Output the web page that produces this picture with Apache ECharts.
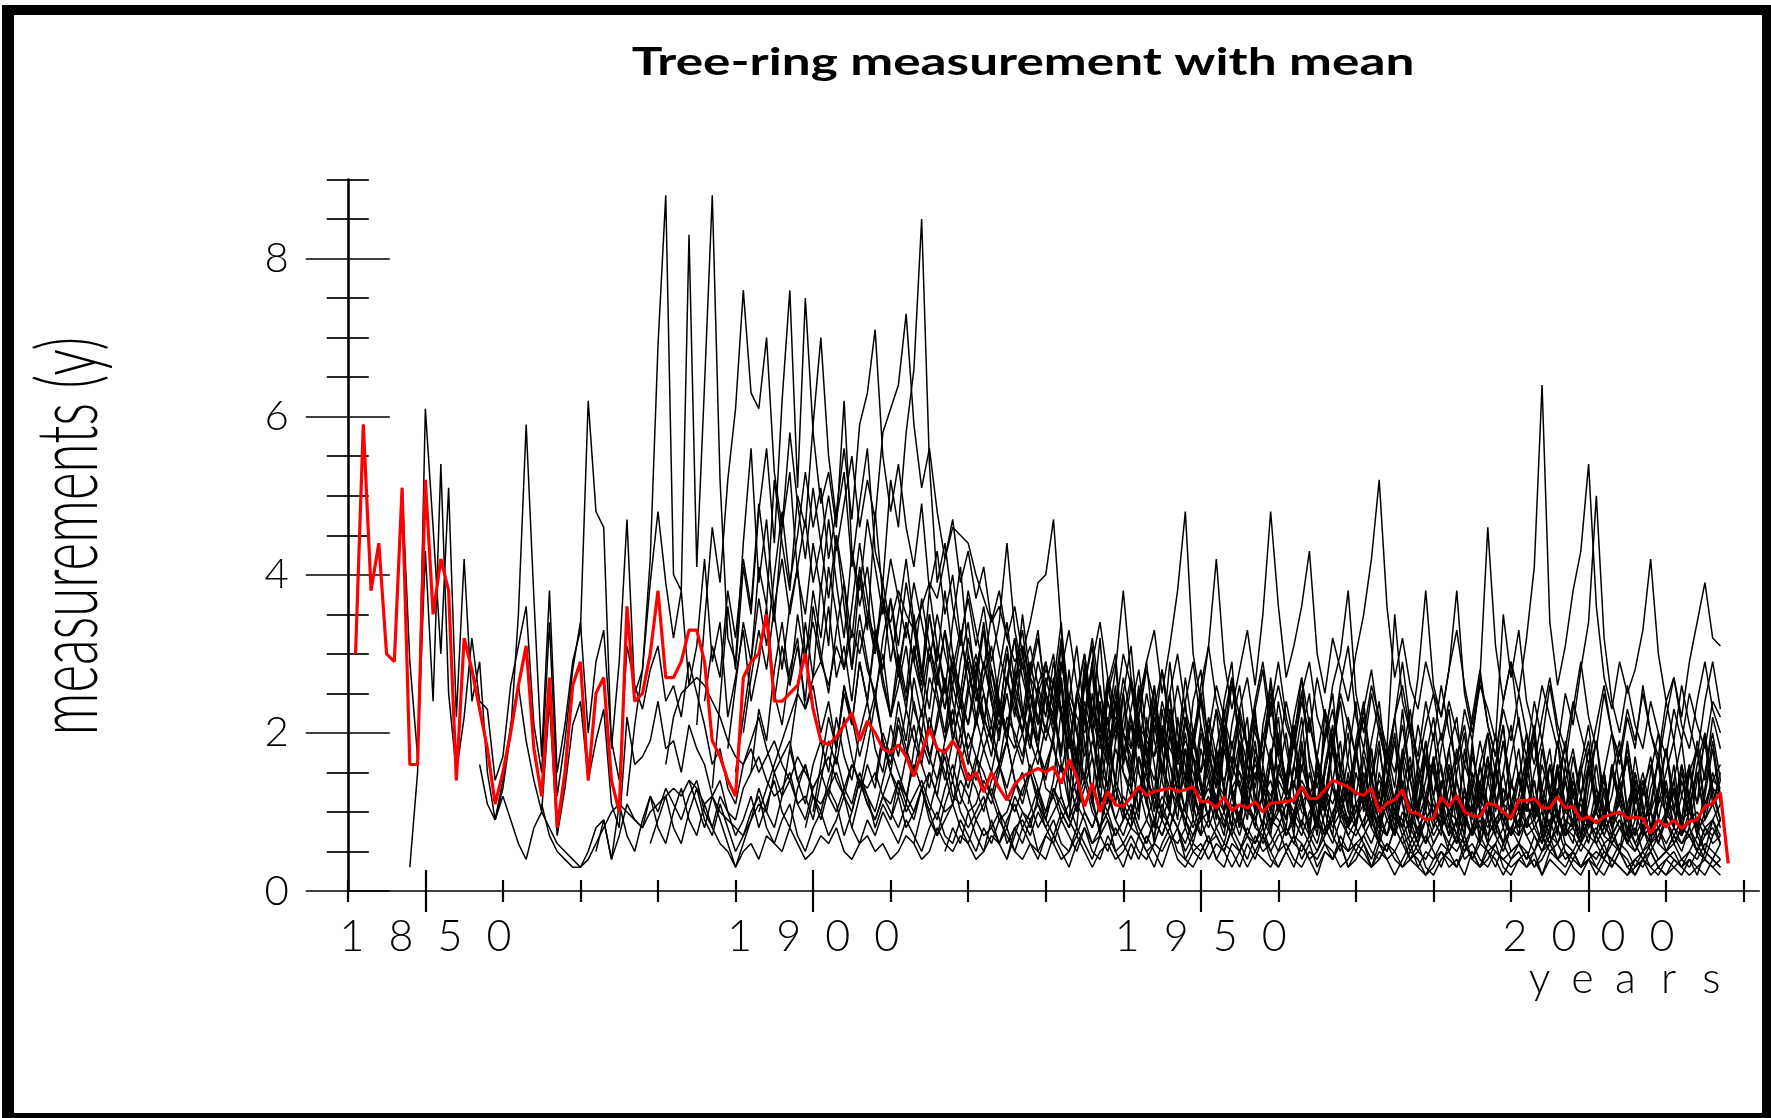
<!DOCTYPE html>
<html><head><meta charset="utf-8">
<script src="https://cdn.jsdelivr.net/npm/echarts@6/dist/echarts.min.js"></script>
<style>html,body{margin:0;padding:0;background:#fff}#c{width:1771px;height:1118px}</style>
</head><body><div id="c"></div>
<script>
const chartTitle = 'Tree-ring measurement with mean';
const xName = 'years';
const yName = 'measurements (y)';
const xLabelValues = [1850, 1900, 1950, 2000];
const xMinorValues = [1840, 1860, 1870, 1880, 1890, 1910, 1920, 1930, 1940, 1960, 1970, 1980, 1990, 2010, 2020];
const yLabelValues = [0, 2, 4, 6, 8];
const yMinorValues = [0.5, 1, 1.5, 2.5, 3, 3.5, 4.5, 5, 5.5, 6.5, 7, 7.5, 8.5, 9];

const meanStart = 1841;
const meanValues = [
3.0,5.9,3.8,4.4,3.0,2.9,5.1,1.6,1.6,5.2,
3.5,4.2,3.8,1.4,3.2,2.8,2.3,1.8,1.1,1.5,
2.0,2.6,3.1,1.8,1.2,2.7,0.8,1.5,2.6,2.9,
1.4,2.5,2.7,1.4,1.0,3.6,2.4,2.5,3.0,3.8,
2.7,2.7,2.9,3.3,3.3,2.9,1.9,1.7,1.4,1.2,
2.7,2.9,3.0,3.5,2.4,2.4,2.5,2.6,3.0,2.3,
1.9,1.85,1.95,2.1,2.25,1.9,2.15,2.0,1.8,1.75,
1.85,1.7,1.45,1.75,2.05,1.8,1.75,1.9,1.75,1.4,
1.5,1.25,1.5,1.3,1.15,1.35,1.45,1.5,1.55,1.5,
1.57,1.36,1.66,1.45,1.07,1.36,1.0,1.26,1.09,1.07,
1.19,1.32,1.21,1.26,1.28,1.3,1.26,1.28,1.32,1.13,
1.13,1.05,1.19,1.02,1.09,1.05,1.13,1.0,1.11,1.12,
1.13,1.15,1.32,1.17,1.17,1.28,1.4,1.36,1.32,1.24,
1.21,1.3,1.0,1.11,1.15,1.28,1.0,0.98,0.9,0.92,
1.19,1.07,1.21,1.0,0.95,0.94,1.11,1.09,1.0,0.92,
1.15,1.14,1.17,1.05,1.05,1.19,1.05,1.07,0.9,0.94,
0.86,0.94,0.97,1.0,0.92,0.93,0.92,0.73,0.9,0.81,
0.9,0.79,0.88,0.9,1.07,1.11,1.24,0.35];

const startYears = [1841,1848,1857,1859,1865,1872,1876,1885,1887,1889,1890,1891,1881,1879,1884,1893,1895,1897,1899,1902,1905,1910,1913,1917,1920,1925,1886,1892,1900,1908];

const treeA = [
3.0,5.9,3.8,4.4,3.0,2.9,5.1,2.9,1.7,4.3,
2.4,5.4,2.5,1.5,2.2,3.2,2.4,2.3,1.4,1.7,
2.6,3.1,3.6,2.1,1.5,3.4,1.2,1.9,2.8,3.4,
2.0,2.9,3.3,1.9,1.4,3.1,2.6,2.3,2.8,3.1,
2.4,2.6,2.2,2.9,2.5,2.1,1.6,1.8,1.3,1.1,
1.6,1.9,2.2,1.8,1.5,1.7,1.9,1.4,1.6,1.2,
1.1,1.3,1.5,1.2,1.0,1.4,1.1,0.9,1.2,1.0,
0.8,1.1,0.9,1.3,1.0,0.7,0.9,1.1,0.8,0.6,
0.9,0.7,0.8,1.0,0.6,0.8,0.9,0.7,1.0,0.8,
0.6,0.9,0.7,0.5,0.8,0.6,0.7,0.9,0.5,0.6,
0.8,0.7,0.5,0.6,0.9,0.7,0.6,0.8,0.5,0.4,
0.6,0.7,0.5,0.8,0.6,0.4,0.7,0.5,0.6,0.8,
0.5,0.7,0.6,0.4,0.5,0.7,0.9,0.6,0.5,0.6,
0.7,0.5,0.4,0.6,0.5,0.7,0.4,0.3,0.5,0.4,
0.6,0.5,0.7,0.4,0.5,0.3,0.6,0.5,0.4,0.5,
0.6,0.4,0.5,0.7,0.5,0.6,0.4,0.5,0.3,0.4,
0.5,0.4,0.6,0.5,0.3,0.4,0.5,0.3,0.4,0.5,
0.4,0.3,0.5,0.4,0.6,0.5,0.4];

const treeB = [
0.3,1.5,6.1,
4.6,3.0,5.1,2.2,4.2,2.4,2.9,1.5,0.9,1.4,
2.1,2.6,1.9,1.4,1.0,2.4,0.7,1.3,2.1,2.4,
1.4,1.9,2.3,1.1,0.8,2.2,1.6,1.7,1.9,2.4,
1.8,1.9,1.5,2.1,1.8,1.6,1.2,1.4,1.0,0.9,
1.3,1.5,1.7,1.4,1.2,1.3,1.5,1.1,1.2,0.9,
1.4,1.9,1.6,2.2,1.7,1.3,1.8,2.4,1.9,1.5,
1.2,1.7,2.1,1.6,1.3,1.8,1.5,1.1,1.6,2.0,
1.7,1.3,1.1,1.5,1.9,1.4,1.2,1.6,1.3,1.0,
1.4,2.3,1.1,0.8,1.9,1.2,0.7,1.6,2.4,1.0,
0.8,1.7,1.2,0.6,2.1,1.4,0.9,1.8,1.1,0.7,
1.9,1.0,0.7,1.5,2.2,1.1,0.8,1.6,1.0,2.0,
1.2,0.7,1.8,1.1,0.8,2.3,1.3,0.9,1.5,0.8,
1.7,1.0,0.6,1.4,2.0,1.1,0.7,1.3,1.9,0.9,
0.7,1.6,1.2,0.8,1.9,1.0,0.6,1.5,2.1,1.1,
0.8,1.4,0.9,1.8,1.2,0.7,1.6,1.0,0.6,1.3,
1.9,1.0,0.7,1.4,0.9,1.7,1.1,0.6,1.2,1.8,
1.0,0.7,1.5,1.1,2.0,1.3,0.9];

const treeC = [
1.6,1.1,0.9,1.2,
0.9,0.6,0.4,0.8,1.0,0.8,0.6,0.5,0.4,0.3,
0.5,0.8,0.9,0.4,0.7,1.1,0.9,0.8,1.2,1.0,
1.3,1.1,0.9,1.2,1.4,1.0,0.8,0.6,0.5,0.3,
0.5,0.6,0.4,0.7,0.6,0.5,0.8,0.6,0.4,0.5,
0.7,0.6,0.8,0.5,0.4,0.6,0.7,0.5,0.6,0.4,
0.5,0.7,0.6,0.4,0.5,0.8,0.6,0.5,0.7,0.6,
0.4,0.5,0.7,0.6,0.8,0.5,0.4,0.6,0.5,0.7,
0.6,0.4,0.5,0.7,0.5,0.3,0.5,0.6,0.4,0.5,
0.7,0.5,0.4,0.6,0.5,0.7,0.4,0.3,0.5,0.6,
0.4,0.6,0.5,0.3,0.5,0.7,0.5,0.4,0.3,0.5,
0.6,0.4,0.3,0.5,0.4,0.6,0.5,0.3,0.4,0.6,
0.5,0.3,0.4,0.6,0.4,0.3,0.5,0.4,0.2,0.3,
0.5,0.4,0.3,0.5,0.6,0.4,0.3,0.5,0.4,0.3,
0.4,0.5,0.3,0.4,0.6,0.4,0.5,0.3,0.2,0.4,
0.3,0.5,0.4,0.3,0.2,0.4,0.3,0.5,0.3,0.2,
0.3,0.4,0.3,0.5,0.4,0.3,0.4];

const treeD = [
0.9,1.3,
2.0,3.5,5.9,3.7,1.7,3.8,1.5,2.1,2.9,3.3,
6.2,4.8,4.6,1.8,2.9,4.7,2.5,2.8,3.9,4.8,
3.9,3.2,3.8,2.6,3.1,4.2,2.9,3.4,2.2,2.7,
3.3,2.4,2.9,3.6,2.5,2.1,2.8,3.2,2.3,2.6,
2.0,2.4,1.8,2.6,2.2,1.7,2.1,2.5,1.9,1.6,
2.2,1.8,1.5,2.0,1.7,1.4,1.9,2.3,1.6,1.3,
1.7,1.5,1.2,1.6,1.9,1.4,1.1,1.5,1.8,1.3,
1.2,1.6,1.4,1.0,1.3,1.7,1.2,1.0,1.4,1.1,
0.9,1.3,1.5,1.1,0.9,1.2,1.4,1.0,0.8,1.1,
1.3,1.0,0.8,1.2,1.4,1.0,0.9,1.2,0.8,1.0,
1.2,0.9,1.1,1.3,0.9,0.7,1.0,1.2,0.9,1.1,
0.8,1.0,1.2,0.9,0.7,1.0,0.8,0.6,0.9,1.1,
0.8,0.6,0.9,1.0,0.7,0.9,0.6,0.8,1.0,0.7,
0.9,0.7,0.5,0.8,0.9,0.6,0.8,0.7,0.5,0.7,
0.8,0.6,0.7,0.9,0.6,0.5,0.7,0.8,0.6,0.5,
0.7,0.6,0.8,0.5,0.7,0.9,0.6];

const treeE = [
1.1,0.7,0.5,0.4,0.3,0.3,
0.4,0.6,0.8,1.0,1.1,1.0,0.9,0.8,1.0,1.1,
1.2,1.3,1.2,1.4,1.3,1.1,1.2,1.0,0.9,0.8,
0.7,0.9,1.1,1.0,0.8,1.2,1.4,1.1,0.9,1.3,
1.5,1.2,1.0,1.3,1.6,1.4,1.1,0.9,1.2,1.5,
1.3,1.0,1.2,1.4,1.1,0.9,1.3,1.6,1.2,1.0,
1.1,1.4,1.2,0.9,1.0,1.3,1.5,1.1,0.8,1.0,
1.2,0.9,1.1,1.4,1.0,0.8,1.1,1.3,0.9,1.2,
1.0,0.7,0.9,1.2,1.0,0.8,1.1,0.9,0.7,1.0,
0.8,1.1,0.9,0.7,1.0,1.2,0.8,0.7,1.0,0.9,
0.7,1.0,0.8,0.6,0.9,1.1,0.8,1.0,0.7,0.9,
1.1,0.8,0.6,0.9,1.0,0.7,0.9,0.8,0.6,0.8,
1.0,0.7,0.9,0.6,0.8,1.0,0.7,0.9,0.6,0.8,
0.7,0.9,1.1,0.8,0.6,0.9,0.7,0.8,1.0,0.7,
0.6,0.8,0.7,0.9,0.6,0.8,0.5,0.7,0.8,0.6,
0.8,0.6,0.7,0.9,0.7,0.8,0.6];

const treeF = [
0.5,0.9,0.4,1.1,0.7,0.5,0.9,1.2,0.8,
0.6,1.0,1.3,0.9,0.7,1.1,0.8,1.2,1.0,0.7,
0.9,1.2,0.8,1.1,1.4,1.0,0.8,1.3,1.6,1.2,
1.0,1.4,1.7,1.3,1.1,1.5,1.2,1.0,1.4,1.8,
1.5,1.2,1.6,1.3,1.0,1.4,1.7,1.2,1.1,1.5,
1.3,1.0,1.4,1.6,1.2,1.0,1.3,1.5,1.1,0.9,
1.3,1.1,0.9,1.2,1.5,1.1,0.8,1.0,1.3,1.0,
0.8,1.1,1.3,0.9,1.2,1.0,0.8,1.1,1.3,0.9,
1.0,1.2,0.8,1.1,0.9,0.7,1.0,1.2,0.9,0.8,
1.1,0.9,0.7,1.0,1.2,0.8,0.9,1.1,0.8,0.7,
0.9,1.1,0.8,0.7,1.0,0.9,0.6,0.8,1.0,0.7,
0.9,0.8,0.6,0.9,1.1,0.8,0.7,0.9,0.6,0.8,
1.0,0.7,0.8,1.0,0.7,0.6,0.9,0.8,0.6,0.9,
0.7,0.9,0.6,0.8,0.7,0.5,0.8,0.6,0.7,0.9,
0.6,0.8,0.7,0.5,0.8,0.9,0.7];

const treeG = [
1.2,2.1,2.8,4.2,6.9,
8.8,4.0,3.8,8.3,4.1,6.4,8.8,5.2,3.2,2.9,
4.4,5.6,3.9,4.7,3.5,2.8,3.6,4.1,3.0,3.4,
2.9,3.6,2.7,3.1,2.4,3.3,2.8,2.5,3.0,2.2,
2.6,3.1,2.3,2.0,2.7,2.4,1.9,2.6,2.2,1.8,
2.1,2.5,1.9,1.6,2.2,2.0,1.7,2.3,1.8,1.5,
1.9,2.6,1.4,1.0,2.2,2.8,1.5,1.1,1.9,2.5,
1.3,0.9,2.0,2.6,1.4,1.0,1.8,2.4,1.2,0.9,
1.7,2.3,1.2,0.8,1.9,1.4,1.0,2.1,2.6,1.3,
0.9,1.6,2.2,1.2,0.8,1.5,2.0,1.1,1.7,2.4,
1.3,0.9,1.8,1.2,0.8,1.6,2.1,1.0,1.4,2.0,
1.2,0.8,1.5,2.0,1.0,1.6,0.9,1.3,1.9,1.1,
0.7,1.4,1.9,1.1,1.6,0.9,1.4,0.8,1.2,1.8,
1.0,1.5,0.8,1.2,1.7,1.0,0.7,1.3,1.6,0.9,
1.3,0.9,1.6,0.8,1.2,1.8,1.1];

const treeH = [
2.1,3.4,4.6,3.9,5.2,6.1,
7.6,6.3,6.1,7.0,5.3,4.6,5.8,4.9,4.2,5.1,
4.4,3.7,4.5,3.9,3.2,4.1,3.5,3.0,3.7,3.3,
2.8,3.4,2.9,2.5,3.1,2.7,2.3,2.9,2.4,2.1,
2.6,2.2,1.9,2.4,2.0,1.8,2.3,1.9,1.6,2.1,
1.8,1.5,2.0,1.7,1.4,1.9,1.6,1.3,1.8,1.5,
1.3,1.7,1.4,1.2,1.6,1.3,1.1,1.5,1.2,1.0,
1.4,1.2,1.0,1.3,1.5,1.1,0.9,1.2,1.4,1.0,
1.2,1.4,1.0,0.9,1.2,1.0,1.3,1.1,0.8,1.0,
1.2,0.9,1.1,1.3,0.9,0.8,1.1,0.9,1.2,1.0,
0.8,1.0,1.2,0.9,0.7,1.0,1.1,0.8,1.0,0.9,
1.1,0.8,0.9,1.1,0.8,1.0,0.7,0.9,1.1,0.8,
0.9,0.7,1.0,0.8,0.6,0.9,1.0,0.7,0.8,1.0,
0.8,0.7,0.9,1.0,0.8,0.7,0.9];

const treeI = [
1.3,2.4,3.6,2.8,
4.1,3.5,4.8,5.6,4.4,6.2,7.6,5.1,7.5,5.8,
4.9,5.3,4.6,6.2,4.3,3.8,4.7,4.1,3.5,4.2,
3.7,3.2,3.9,3.4,2.9,3.5,3.0,2.6,3.2,2.8,
2.4,2.9,2.5,2.1,2.7,2.3,2.0,2.5,2.2,1.9,
2.3,1.6,1.1,2.5,1.9,1.2,2.4,1.7,1.1,2.0,
1.7,1.0,2.2,1.6,0.9,2.0,1.5,1.0,1.9,1.4,
0.9,1.8,1.3,0.8,1.7,2.2,1.0,1.5,1.1,1.9,
1.4,0.8,1.6,1.2,0.7,1.5,2.0,1.0,1.3,1.8,
1.0,1.5,0.8,1.3,1.9,1.1,0.7,1.4,1.7,0.9,
1.3,1.8,1.0,0.7,1.5,1.1,1.7,1.2,0.8,1.4,
1.0,1.6,2.1,1.2,0.8,1.5,1.0,1.7,1.2,0.8,
1.3,0.9,1.6,1.1,1.9,1.2,0.8,1.1,1.7,0.9,
1.4,1.9,1.1,1.5,0.9,1.3,1.2];

const treeJ = [
1.8,2.6,
3.4,2.9,4.1,3.6,5.2,4.4,3.8,5.0,4.6,5.9,
7.0,5.5,4.7,5.3,4.1,4.9,5.6,4.3,3.9,5.2,
4.6,5.8,6.6,8.5,5.4,3.9,4.4,3.6,3.1,3.8,
3.3,2.8,3.5,3.0,2.6,3.2,2.7,2.3,2.9,2.5,
2.2,3.1,1.9,1.4,2.7,2.0,1.3,2.5,2.9,1.6,
2.1,1.5,1.2,2.4,1.8,1.1,2.2,1.6,1.0,2.0,
1.5,1.0,1.9,1.3,0.9,1.7,2.3,1.2,1.6,1.0,
1.4,2.1,1.2,0.8,1.7,1.1,1.9,1.3,0.8,1.5,
1.1,1.8,1.0,1.4,2.2,1.3,0.8,1.5,1.0,1.7,
1.0,1.5,0.8,1.8,1.2,0.7,1.4,2.0,1.1,1.3,
1.8,1.0,1.4,0.7,1.2,1.9,1.0,1.5,0.7,1.1,
1.6,0.9,1.2,1.8,1.0,0.7,1.3,1.6,0.9,1.4,
0.8,1.5,1.1,0.7,1.3,1.9,1.2];

const treeK = [
1.5,
2.2,2.9,3.7,3.1,4.0,4.8,3.9,4.5,5.3,4.6,
5.1,4.2,4.8,5.6,4.7,5.9,6.3,7.1,5.5,4.8,
5.4,4.6,4.1,4.9,3.8,4.3,3.5,4.0,3.2,3.7,
3.1,3.6,2.9,3.4,4.4,3.3,2.8,3.1,2.6,2.9,
2.4,1.7,2.8,2.0,1.4,2.5,1.9,1.3,2.4,1.6,
2.2,1.5,1.1,2.1,1.6,1.0,1.9,1.4,0.9,1.8,
1.4,0.9,1.8,1.3,0.8,1.6,1.2,0.8,1.7,1.1,
0.8,1.6,1.2,0.7,1.5,1.0,1.8,1.1,1.4,0.8,
1.5,1.1,0.7,1.4,1.0,1.7,1.2,0.7,1.1,1.6,
0.9,1.3,1.8,1.0,0.7,1.4,0.9,1.6,1.1,0.7,
1.2,1.7,0.9,1.3,1.8,1.0,0.7,1.4,0.9,1.6,
1.0,1.5,0.8,1.2,1.7,0.9,1.4,0.8,1.2,1.0,
1.6,0.8,1.2,1.8,1.0,1.4,1.3];

const treeL = [
2.0,2.7,3.3,2.8,3.6,4.2,3.5,4.1,4.7,3.9,
4.4,5.0,4.3,4.9,5.5,4.6,5.2,4.7,5.8,6.1,
6.4,7.3,5.9,5.1,5.6,4.8,4.2,4.7,3.9,4.3,
3.7,4.1,3.4,3.8,3.2,3.6,3.0,3.4,3.9,4.0,
4.7,3.3,2.4,3.1,2.2,2.9,2.0,2.7,1.9,2.5,
1.8,2.6,1.7,2.3,1.5,2.2,1.4,2.0,1.3,2.1,
1.6,1.1,2.0,1.4,1.9,1.0,1.7,1.2,1.8,1.1,
0.9,1.6,1.2,0.8,1.7,1.3,0.9,1.5,1.1,1.8,
1.2,0.8,1.5,1.1,0.7,1.4,1.0,1.6,1.2,0.8,
1.4,1.0,0.7,1.3,0.9,1.6,1.1,0.7,1.3,1.0,
1.5,1.0,1.4,0.8,0.7,1.3,1.0,1.2,1.6,0.8,
1.1,1.4,0.8,1.2,0.9,1.5,1.0,0.7,1.1,1.3,
0.8,1.2,1.0,1.5,0.9,1.1,1.4];

const treeM = [
1.6,2.2,2.5,2.6,2.7,2.6,2.4,2.2,1.9,1.7,
1.6,1.8,1.5,1.7,1.9,1.6,1.4,1.7,1.5,1.3,
1.5,1.7,1.4,1.2,1.6,1.4,1.3,1.5,1.2,1.1,
1.4,1.2,1.0,1.3,1.5,1.2,1.0,1.1,1.4,1.2,
0.9,1.1,1.3,1.0,0.8,1.2,1.0,0.9,1.1,0.8,
1.0,1.2,0.9,0.7,1.0,0.8,1.1,0.9,0.7,0.9,
1.1,0.8,0.6,0.9,0.7,1.0,0.8,0.6,0.9,0.7,
0.9,0.7,0.5,0.8,1.0,0.7,0.6,0.8,0.5,0.7,
0.8,0.6,0.9,0.7,0.5,0.8,0.6,0.9,0.7,0.5,
0.7,0.9,0.6,0.5,0.8,0.6,0.7,0.5,0.4,0.6,
0.8,0.5,0.7,0.6,0.4,0.7,0.5,0.6,0.8,0.5,
0.6,0.4,0.7,0.5,0.6,0.8,0.5,0.4,0.6,0.5,
0.7,0.5,0.4,0.6,0.5,0.3,0.5,0.6,0.4,0.5,
0.6,0.4,0.5,0.7,0.5,0.4,0.6];

const treeN = [
0.6,0.9,
1.2,0.8,0.6,1.0,1.3,0.9,0.7,1.1,0.8,0.5,
0.7,1.0,1.2,0.8,0.6,0.9,1.1,0.7,0.5,0.8,
1.0,0.7,0.9,1.2,0.8,0.6,0.9,0.7,1.0,0.8,
0.6,0.9,0.7,0.5,0.8,1.0,0.7,0.6,0.9,0.7,
0.5,0.8,0.6,0.9,0.7,0.5,0.8,0.6,0.4,0.7,
0.9,0.6,0.5,0.8,0.6,0.4,0.7,0.5,0.8,0.6,
0.4,0.7,0.5,0.3,0.6,0.8,0.5,0.4,0.6,0.5,
0.7,0.4,0.6,0.5,0.3,0.6,0.4,0.7,0.5,0.3,
0.5,0.7,0.4,0.6,0.3,0.5,0.4,0.6,0.3,0.5,
0.4,0.3,0.6,0.4,0.5,0.3,0.4,0.6,0.3,0.2,
0.4,0.5,0.3,0.6,0.4,0.3,0.5,0.4,0.2,0.4,
0.5,0.3,0.4,0.2,0.5,0.4,0.3,0.5,0.3,0.4,
0.2,0.4,0.3,0.5,0.3,0.2,0.4,0.3,0.2,0.4,
0.3,0.2,0.4,0.3,0.2,0.4,0.3];

const treeO = [
1.4,1.1,0.8,1.2,0.9,0.6,0.3,
0.6,0.9,1.3,1.0,1.5,1.2,1.8,1.4,1.1,1.6,
1.9,1.5,2.2,1.7,1.4,2.0,2.4,1.8,1.5,2.1,
1.7,2.3,1.9,1.6,2.2,1.8,1.4,1.9,2.4,1.7,
1.4,1.8,2.1,1.6,1.3,1.7,2.0,1.5,1.2,1.6,
1.9,1.2,0.9,1.8,2.3,1.1,1.6,2.2,1.3,0.9,
1.6,2.1,1.1,0.8,1.5,2.0,1.2,0.8,1.7,1.3,
0.9,1.6,2.1,1.2,0.8,1.4,1.9,1.1,0.7,1.5,
2.0,1.2,0.8,1.5,1.0,0.7,1.4,1.9,1.0,0.8,
1.3,1.8,1.0,0.7,1.2,1.6,0.9,0.6,1.2,1.7,
1.1,0.7,1.4,0.9,1.3,0.6,1.0,1.6,0.9,0.7,
1.2,1.7,0.9,0.6,1.1,1.5,0.8,1.3,0.9,0.6,
1.1,1.5,0.8,1.0,0.6,1.2,1.4,0.8,0.6,1.0,
1.4,0.8,1.2,0.7,1.0,1.5,1.2];

const treeP = [
1.0,1.3,1.6,1.9,2.2,2.5,2.3,2.7,
2.9,2.6,3.1,2.8,3.3,3.0,3.5,3.2,3.6,3.4,
3.8,3.5,3.3,3.6,3.9,3.7,4.2,4.6,4.5,4.4,
4.0,3.7,3.4,3.6,3.2,2.9,3.1,2.7,2.5,2.8,
2.6,2.3,2.5,2.2,2.0,2.3,2.1,1.9,2.2,2.0,
1.8,2.1,1.9,1.7,2.0,1.8,1.6,1.9,1.7,1.5,
1.8,1.6,1.4,1.7,1.5,1.3,1.6,1.4,1.2,1.5,
1.3,1.1,1.4,1.2,1.5,1.3,1.1,1.4,1.2,1.0,
1.3,1.1,1.4,1.2,1.0,1.3,1.1,0.9,1.2,1.0,
1.2,1.0,0.9,1.2,1.0,1.3,1.1,0.9,1.1,1.0,
0.8,1.1,0.9,1.2,1.0,0.8,1.0,0.9,1.1,0.8,
1.0,0.8,0.9,1.1,0.8,0.7,0.9,1.0,0.8,0.9,
0.7,0.9,1.0,0.8,0.9,1.1,0.8];

const treeQ = [
2.4,3.1,2.6,3.5,2.9,3.8,
3.2,4.1,3.5,2.8,3.6,4.4,3.7,3.0,3.9,3.3,
2.7,3.4,2.9,3.7,3.1,2.6,3.3,2.8,2.3,3.0,
2.5,2.1,2.8,2.4,2.0,2.6,2.9,2.2,1.9,2.5,
2.2,1.8,2.4,2.0,1.7,2.3,1.9,1.6,2.1,1.8,
1.5,2.0,1.7,1.4,1.9,1.6,1.3,1.8,1.5,1.2,
1.7,1.4,1.2,1.6,1.3,1.1,1.5,1.3,1.0,1.4,
1.2,1.0,1.3,1.1,0.9,1.2,1.4,1.0,0.8,1.1,
1.3,1.0,0.8,1.1,0.9,1.2,1.0,0.7,0.9,1.1,
0.8,1.0,1.2,0.9,0.7,1.0,0.8,1.1,0.9,0.7,
0.9,1.1,0.8,0.6,0.9,1.0,0.7,0.9,0.6,0.8,
1.0,0.7,0.6,0.8,0.9,0.6,0.8,0.5,0.7,0.9,
0.6,0.8,0.7,0.5,0.8,0.6,0.7];

const treeR = [
1.8,2.5,3.4,2.7,
3.9,3.1,4.5,3.6,2.8,4.0,3.3,4.8,3.7,2.9,
3.5,4.2,3.4,2.7,3.8,3.1,2.5,3.4,4.1,3.0,
2.6,3.3,2.8,2.2,3.0,2.5,3.5,2.7,2.1,2.9,
2.4,3.2,2.0,1.5,2.8,2.1,1.4,2.6,3.0,1.8,
1.4,2.5,1.8,1.2,2.3,1.6,1.1,2.2,1.7,1.0,
2.1,1.5,1.0,1.9,1.3,0.9,1.8,1.4,0.8,1.6,
1.2,1.9,1.1,0.8,1.6,1.0,0.7,1.5,2.0,1.1,
0.8,1.4,1.9,1.0,0.7,1.3,1.7,0.9,0.6,1.2,
1.6,0.9,0.6,1.3,0.8,1.2,1.7,0.8,0.6,1.1,
1.5,0.8,1.2,0.7,1.1,1.6,0.8,0.6,1.2,0.9,
0.7,1.3,0.8,0.5,1.1,1.4,0.7,1.0,0.6,0.9,
1.3,0.7,1.0,0.8,0.5,0.9,1.1];

const treeS = [
0.8,1.2,
0.9,1.3,1.1,0.7,1.0,1.4,1.2,0.8,1.1,0.9,
1.2,0.8,1.0,1.3,0.9,0.7,1.1,1.4,1.0,0.8,
1.0,1.2,0.8,0.6,0.9,1.1,0.8,1.0,1.3,0.9,
0.7,1.0,0.8,1.1,0.9,0.6,0.8,1.0,0.7,0.9,
1.1,0.8,0.6,0.9,0.7,1.0,0.8,0.5,0.7,0.9,
0.6,0.8,1.0,0.7,0.5,0.8,0.6,0.9,0.7,0.5,
0.8,0.6,0.5,0.7,0.9,0.6,0.4,0.7,0.5,0.8,
0.6,0.4,0.7,0.5,0.8,0.6,0.4,0.5,0.7,0.5,
0.3,0.6,0.5,0.7,0.4,0.6,0.5,0.3,0.6,0.4,
0.6,0.5,0.3,0.5,0.7,0.4,0.6,0.5,0.3,0.5,
0.4,0.6,0.3,0.5,0.4,0.2,0.4,0.5,0.3,0.4,
0.5,0.3,0.4,0.2,0.5,0.4,0.3];

const treeT = [
1.2,1.8,2.5,2.1,2.9,2.4,3.2,2.6,2.2,
2.8,2.3,3.1,2.5,2.0,2.7,3.3,2.4,2.0,2.6,
3.0,2.5,2.1,2.8,3.4,2.6,2.2,2.9,2.4,2.0,
2.6,3.4,2.1,1.6,2.9,2.2,3.2,1.9,1.4,2.5,
3.1,2.0,1.5,2.6,1.8,2.9,2.0,1.4,2.4,2.8,
1.8,1.3,2.4,2.9,1.7,1.2,2.2,1.6,2.7,1.9,
1.4,2.2,2.7,1.6,1.1,2.0,2.5,1.5,1.0,1.9,
2.4,1.4,1.0,1.8,1.3,2.3,1.4,0.9,1.7,1.5,
1.0,1.8,2.2,1.3,0.9,1.6,2.0,1.1,1.5,0.9,
1.4,2.0,1.1,0.8,1.6,1.2,1.9,1.0,0.7,1.5,
1.2,0.8,1.5,1.9,1.0,0.7,1.3,1.0,1.7,1.1,
0.8,1.4,1.0,1.6,2.0,1.2,0.9];

const treeU = [
0.8,1.2,1.6,1.3,1.9,1.5,
2.1,1.7,2.4,1.9,1.6,2.2,2.7,2.0,1.8,2.5,
2.9,2.2,1.9,2.6,3.1,2.4,2.0,2.7,3.2,2.5,
2.1,2.8,3.3,2.6,2.2,2.9,3.4,2.7,2.3,3.0,
2.6,2.2,2.9,3.3,2.5,3.1,3.8,4.8,3.0,2.4,
3.1,4.2,2.9,2.3,2.8,3.3,2.6,3.5,4.8,3.6,
2.7,3.1,3.6,4.3,3.0,2.5,3.2,2.8,2.4,3.0,
3.5,4.2,5.2,3.6,2.7,3.2,2.6,2.3,2.9,2.5,
2.2,2.8,3.3,2.6,2.1,2.7,4.6,3.1,2.4,2.9,
2.5,3.2,4.1,6.4,3.4,2.6,3.1,3.8,4.3,5.4,
3.6,2.7,2.3,2.9,2.5,2.8,3.3,4.2,3.0,2.4,
2.7,2.2,2.9,3.4,3.9,3.2,3.1];

const treeV = [
0.9,
1.4,1.1,1.8,2.3,1.7,2.1,2.6,1.9,2.4,2.9,
2.2,2.7,3.1,2.4,2.0,2.8,3.3,2.5,2.1,2.7,
2.3,2.9,2.4,2.0,2.6,3.2,2.5,2.1,2.8,3.8,
2.7,2.2,2.8,2.4,1.9,2.5,3.0,2.3,1.9,2.6,
3.1,2.4,2.0,2.7,2.2,1.8,2.4,2.9,2.2,2.6,
2.1,1.8,2.5,2.9,2.2,1.9,2.6,3.0,3.8,2.5,
2.0,2.6,2.2,1.8,3.5,2.4,2.0,2.7,3.8,2.6,
2.2,2.8,3.8,2.5,2.0,2.6,2.3,1.9,3.5,2.7,
3.3,2.4,2.0,2.6,2.2,1.8,2.5,2.1,2.8,3.4,
5.0,3.2,2.4,2.0,2.6,2.1,1.8,2.4,2.0,1.7,
2.3,1.9,2.5,2.1,1.8,2.4,2.2];

const treeW = [
0.6,1.0,1.5,1.2,1.8,1.4,2.0,1.6,
2.2,1.8,1.5,2.0,2.5,1.9,1.6,2.2,1.8,1.4,
2.0,2.7,1.6,1.2,2.3,1.7,1.1,2.0,2.6,1.5,
1.2,2.2,1.5,1.0,1.9,2.5,1.4,1.0,2.0,1.3,
0.9,1.8,2.3,1.3,0.9,1.9,1.2,0.8,1.7,2.2,
1.2,0.9,1.9,1.2,0.8,1.6,2.1,1.1,0.8,1.7,
2.2,1.2,0.9,1.7,1.1,0.8,1.6,1.0,1.9,1.2,
0.8,1.6,1.1,0.7,1.8,1.2,0.9,1.6,2.1,1.1,
0.8,1.5,2.0,1.0,0.7,1.6,1.1,0.8,1.5,1.9,
1.1,0.8,1.6,1.2,0.7,1.5,1.0,0.7,1.3,1.8,
1.0,1.6,0.8,1.4,1.9,1.1,1.5];

const treeX = [
0.5,0.8,0.6,1.0,
0.7,0.5,0.9,0.6,0.4,0.8,0.6,0.9,0.5,0.4,
0.7,0.5,0.3,0.6,0.8,0.5,0.4,0.7,0.5,0.3,
0.6,0.4,0.7,0.5,0.3,0.6,0.8,0.4,0.3,0.5,
0.7,0.4,0.3,0.6,0.5,0.3,0.5,0.7,0.4,0.3,
0.5,0.3,0.6,0.4,0.2,0.5,0.4,0.6,0.3,0.4,
0.6,0.3,0.5,0.4,0.2,0.4,0.6,0.3,0.2,0.4,
0.5,0.3,0.4,0.2,0.5,0.3,0.4,0.6,0.3,0.2,
0.4,0.3,0.5,0.2,0.4,0.3,0.2,0.4,0.3,0.5,
0.3,0.2,0.4,0.3,0.2,0.3,0.4,0.2,0.3,0.2,
0.4,0.3,0.2,0.3,0.4,0.3,0.2];

const treeY = [
1.1,
1.6,2.1,1.7,2.4,1.9,2.8,2.2,1.8,2.5,2.0,
2.7,2.2,1.8,2.4,3.0,2.3,1.9,2.6,2.1,1.7,
2.3,2.8,2.0,1.7,2.4,2.0,2.6,2.1,1.8,2.4,
2.0,2.6,2.2,1.8,2.3,2.7,2.0,1.7,2.3,2.9,
2.2,1.8,2.4,2.0,2.7,2.2,1.8,2.5,2.1,1.7,
2.3,2.8,2.1,1.7,2.2,2.6,2.0,1.6,2.1,2.5,
1.9,2.4,2.0,1.6,2.2,2.8,2.1,1.7,2.3,1.9,
2.5,2.0,1.6,2.2,2.7,2.1,1.8,2.4,2.0,1.6,
2.1,2.6,2.0,1.7,2.3,1.9,2.5,2.0,1.6,2.2,
2.7,2.1,1.8,2.4,2.9,2.3,2.0];

const treeZ = [
0.4,0.7,1.0,0.8,1.2,0.9,
1.3,1.0,0.8,1.1,1.4,1.0,0.8,1.2,0.9,0.7,
1.0,1.3,0.9,0.7,1.1,0.8,1.2,0.9,0.6,1.0,
1.2,0.8,0.6,1.0,0.7,1.1,0.9,0.6,0.8,1.1,
0.7,0.9,1.2,0.8,0.6,1.0,0.7,0.5,0.9,1.1,
0.8,0.6,0.9,0.7,1.0,0.8,0.5,0.7,0.9,0.6,
0.8,1.0,0.7,0.5,0.8,0.6,0.9,0.7,0.5,0.8,
0.6,0.9,0.7,0.5,0.8,1.0,0.6,0.5,0.7,0.9,
0.6,0.4,0.7,0.5,0.8,0.6,0.4,0.6,0.8,0.5,
0.7,0.5,0.8,0.6,0.4,0.7,0.9];

const treeAA = [
2.4,3.1,2.7,3.8,3.2,
4.2,3.6,4.9,4.1,3.4,4.6,5.3,4.0,3.5,4.4,
3.8,4.7,3.9,3.2,4.3,3.6,4.1,3.3,2.8,3.7,
3.1,3.9,3.3,2.7,3.5,2.9,3.8,3.0,2.5,3.2,
2.7,3.4,2.6,2.2,3.0,2.5,2.0,2.8,3.3,2.4,
2.0,2.9,2.3,1.7,2.6,3.1,2.1,1.6,2.5,2.0,
1.6,2.4,2.9,1.9,1.5,2.3,1.8,2.7,2.0,1.5,
2.2,1.7,1.3,2.1,2.6,1.8,1.4,2.0,1.6,2.4,
1.8,1.3,2.0,2.5,1.6,1.2,1.9,1.5,2.2,1.7,
1.3,1.9,2.4,1.5,1.1,1.8,1.4,2.1,1.6,1.2,
1.8,2.3,1.4,1.0,1.7,1.3,2.0,1.5,1.1,1.7,
2.2,1.4,1.0,1.6,1.2,1.9,1.4,1.0,1.6,2.1,
1.3,1.0,1.5,1.1,1.8,1.3,0.9,1.5,2.0,1.2,
1.0,1.6,1.2,1.9,1.4,2.2,1.8];

const treeAB = [
1.5,2.3,1.9,2.8,3.4,2.6,3.1,2.4,3.6,
3.0,2.5,3.3,3.9,2.8,3.5,2.9,2.4,3.2,3.7,
2.9,2.4,3.1,2.6,3.5,2.8,2.3,3.0,2.5,2.1,
2.8,3.3,2.4,2.0,2.7,2.2,3.0,2.5,1.9,2.6,
3.0,2.2,1.8,2.5,2.1,2.8,2.3,1.7,2.4,2.0,
2.6,1.9,1.6,2.3,2.8,2.0,1.6,2.2,1.8,2.5,
1.9,1.5,2.2,2.7,1.8,1.4,2.1,1.7,2.4,1.8,
1.4,2.0,2.5,1.7,1.3,1.9,2.3,1.6,1.2,1.8,
2.3,1.6,1.2,1.8,1.5,2.1,1.4,1.1,1.7,2.2,
1.5,1.1,1.7,2.1,1.4,1.0,1.6,1.3,1.9,1.4,
1.0,1.6,2.0,1.3,1.0,1.5,1.8,1.2,0.9,1.5,
1.9,1.2,0.9,1.4,1.7,1.1,1.5,1.0,1.3,1.8,
1.2,0.9,1.5,1.8,1.1,1.4,1.6];

const treeAC = [
1.0,
1.6,2.2,1.8,2.6,2.1,2.9,2.4,3.3,2.7,2.2,
3.0,2.5,3.5,2.8,2.3,3.1,2.6,2.1,2.9,3.4,
2.6,2.1,2.8,2.3,1.9,2.6,3.1,2.2,1.8,2.5,
2.1,2.7,1.9,1.5,2.4,2.0,2.6,1.8,1.4,2.2,
2.7,1.9,1.5,2.2,1.8,2.5,1.7,1.3,2.0,2.4,
1.7,1.3,2.0,1.6,2.3,1.8,1.3,1.9,2.5,1.7,
1.3,1.9,1.5,2.2,1.6,1.2,1.8,2.4,1.6,1.2,
1.8,1.4,2.1,1.5,1.1,1.7,2.3,1.5,1.1,1.6,
2.0,1.4,1.0,1.6,1.3,1.9,1.4,1.0,1.5,2.1,
1.4,1.0,1.5,1.9,1.3,0.9,1.4,1.8,1.2,1.6,
1.1,1.5,2.0,1.3,0.9,1.4,1.2,1.7,1.1,1.5,
1.9,1.2,1.6,1.1,1.5,2.0,1.4];

const treeAD = [
1.4,2.0,1.7,
2.4,1.9,2.7,2.2,3.0,2.5,2.0,2.8,3.3,2.6,
2.1,2.9,2.4,1.9,2.7,3.2,2.3,1.9,2.6,2.2,
2.9,2.3,1.8,2.5,3.0,2.2,1.8,2.4,2.0,2.7,
2.2,1.8,2.5,2.0,2.8,2.2,1.7,2.4,2.9,2.1,
1.7,2.3,1.9,2.6,2.0,1.6,2.3,2.8,2.0,1.7,
2.4,1.9,2.7,2.1,1.7,2.3,1.9,2.6,3.1,2.2,
1.8,2.5,2.0,1.6,2.2,2.9,2.1,1.7,2.4,1.9,
2.6,2.0,1.6,2.3,1.9,2.7,2.1,1.7,2.4,2.9,
2.1,1.7,2.4,1.9,2.6,2.0,1.6,2.3,2.9,2.2,
1.8,2.5,2.0,1.6,2.2,1.8,2.6,2.0,1.7,2.4,
1.9,2.6,2.1,1.7,2.4,2.9,2.3];

const trees = [treeA,treeB,treeC,treeD,treeE,treeF,treeG,treeH,treeI,treeJ,treeK,treeL,treeM,treeN,treeO,treeP,treeQ,treeR,treeS,treeT,treeU,treeV,treeW,treeX,treeY,treeZ,treeAA,treeAB,treeAC,treeAD];

function toPairs(start, arr) { return arr.map(function (v, i) { return [start + i, v]; }); }
function spaced(v) { return String(v).split('').map(function (c) { return '{d|' + c + '}'; }).join(''); }

const FONT_THIN = 'Lato';
const series = trees.map(function (arr, k) {
  return {
    type: 'line', name: 'tree ' + (k + 1), data: toPairs(startYears[k], arr),
    showSymbol: false, symbol: 'none', silent: true, z: 2,
    lineStyle: { color: '#000', width: 1.5 }
  };
});
series.push({
  type: 'line', name: 'mean', data: toPairs(meanStart, meanValues),
  showSymbol: false, symbol: 'none', silent: true, z: 5,
  lineStyle: { color: '#ff0000', width: 3.2 }
});

function xAx(extra) {
  return Object.assign({
    type: 'value', min: 1840, max: 2022, position: 'bottom',
    axisLine: { show: false }, splitLine: { show: false },
    axisLabel: { show: false }
  }, extra);
}
function yAx(extra) {
  return Object.assign({
    type: 'value', min: 0, max: 9, position: 'left',
    axisLine: { show: false }, splitLine: { show: false },
    axisLabel: { show: false }
  }, extra);
}
const tickStyleV = { color: '#000', width: 2.2 };
const tickStyleH = { color: '#000', width: 1.7 };
const thinRich = { d: { width: 49, align: 'center', fontSize: 43, lineHeight: 43, fontFamily: FONT_THIN, fontWeight: 300, color: '#000' } };
const nameRich = { d: { width: 43, align: 'center', fontSize: 43, lineHeight: 43, fontFamily: FONT_THIN, fontWeight: 300, fill: '#000', color: '#000' } };

const option = {
  backgroundColor: '#fff',
  animation: false,
  grid: { left: 347.8, right: 11.8, top: 179.5, bottom: 227, containLabel: false, outerBoundsMode: 'none' },
  xAxis: [
    xAx({
      axisLine: { show: true, onZero: false, lineStyle: { color: '#000', width: 1.7 } },
      axisTick: { show: true, customValues: xLabelValues, length: 21, lineStyle: tickStyleV },
      axisLabel: { show: true, customValues: xLabelValues, margin: 25, formatter: spaced, rich: thinRich }
    }),
    xAx({ axisTick: { show: true, inside: true, customValues: xLabelValues, length: 21, lineStyle: tickStyleV } }),
    xAx({ axisTick: { show: true, customValues: xMinorValues, length: 11, lineStyle: tickStyleV } }),
    xAx({ axisTick: { show: true, inside: true, customValues: xMinorValues, length: 11, lineStyle: tickStyleV } })
  ],
  yAxis: [
    yAx({
      axisLine: { show: true, onZero: false, lineStyle: { color: '#000', width: 2.6 } },
      axisTick: { show: true, customValues: yLabelValues, length: 42, lineStyle: tickStyleH },
      axisLabel: { show: true, customValues: yLabelValues, margin: 59, fontSize: 42, fontFamily: FONT_THIN, fontWeight: 300, color: '#000' }
    }),
    yAx({ axisTick: { show: true, inside: true, customValues: yLabelValues, length: 42, lineStyle: tickStyleH } }),
    yAx({ axisTick: { show: true, customValues: yMinorValues, length: 21, lineStyle: tickStyleH } }),
    yAx({ axisTick: { show: true, inside: true, customValues: yMinorValues, length: 21, lineStyle: tickStyleH } })
  ],
  graphic: [
    { type: 'text', x: 1023, y: 63, scaleX: 1.35, z: 10,
      style: { text: chartTitle, font: 'bold 38px Lato', fill: '#000', align: 'center', verticalAlign: 'middle', textAlign: 'center', textVerticalAlign: 'middle' } },
    { type: 'text', x: 70, y: 536, rotation: Math.PI / 2, scaleY: 1.6, z: 10,
      style: { text: yName, font: '300 53px Lato', fill: '#000', align: 'center', verticalAlign: 'middle', textAlign: 'center', textVerticalAlign: 'middle' } },
    { type: 'text', x: 1518, y: 958, z: 10,
      style: { text: spaced(xName), rich: nameRich, fill: '#000', align: 'left', verticalAlign: 'top', textAlign: 'left', textVerticalAlign: 'top' } },
    { type: 'rect', shape: { x: 2, y: 5, width: 12, height: 1113 }, style: { fill: '#000' }, z: 10 },
    { type: 'rect', shape: { x: 2, y: 5, width: 1769, height: 10 }, style: { fill: '#000' }, z: 10 },
    { type: 'rect', shape: { x: 1762, y: 5, width: 9, height: 1113 }, style: { fill: '#000' }, z: 10 },
    { type: 'rect', shape: { x: 2, y: 1113, width: 1769, height: 5 }, style: { fill: '#000' }, z: 10 }
  ],
  series: series
};

const chart = echarts.init(document.getElementById('c'), null, { renderer: 'canvas' });
chart.setOption(option);
</script>
</body></html>
